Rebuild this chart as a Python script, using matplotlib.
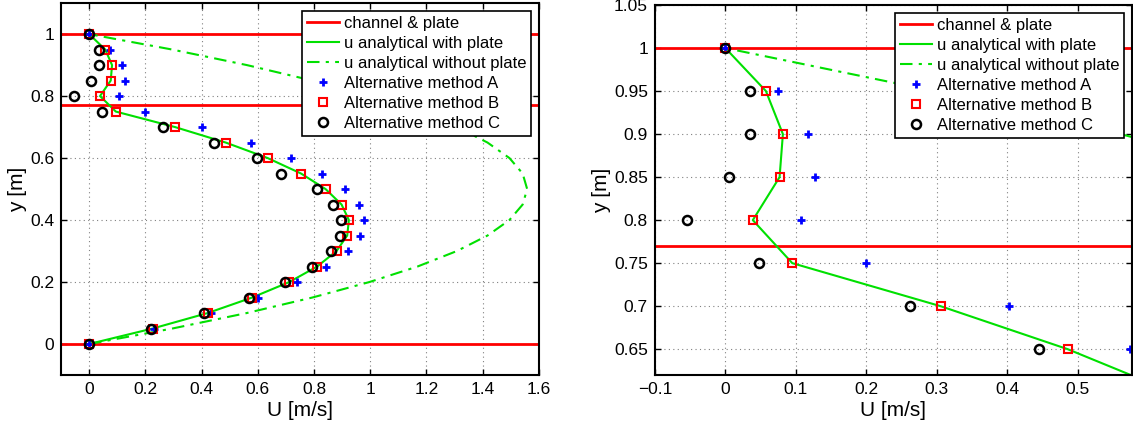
import matplotlib
matplotlib.use("Agg")
import matplotlib.pyplot as plt

plt.rcParams['font.family'] = ['Liberation Sans', 'DejaVu Sans']

# sample heights [m]
y = [0.0, 0.05, 0.1, 0.15, 0.2, 0.25, 0.3, 0.35, 0.4, 0.45, 0.5,
     0.55, 0.6, 0.65, 0.7, 0.75, 0.8, 0.85, 0.9, 0.95, 1.0]

# velocities [m/s]
u_with_plate = [0.0, 0.226, 0.422, 0.580, 0.712, 0.811, 0.880, 0.918, 0.924, 0.898, 0.841,
                0.754, 0.635, 0.486, 0.3055, 0.095, 0.039, 0.077, 0.0817, 0.0576, 0.0]
u_without_plate = [0.0, 0.296, 0.561, 0.794, 0.997, 1.168, 1.308, 1.417, 1.495, 1.542, 1.558,
                   1.542, 1.495, 1.417, 1.308, 1.168, 0.997, 0.794, 0.561, 0.296, 0.0]
method_a = [0.0, 0.232, 0.432, 0.599, 0.738, 0.844, 0.921, 0.964, 0.977, 0.959, 0.911,
            0.830, 0.718, 0.575, 0.4025, 0.199, 0.107, 0.1267, 0.1168, 0.0746, 0.0]
method_b = [0.0, 0.226, 0.422, 0.580, 0.712, 0.811, 0.880, 0.918, 0.924, 0.898, 0.841,
            0.754, 0.635, 0.486, 0.3055, 0.095, 0.039, 0.077, 0.0817, 0.0576, 0.0]
method_c = [0.0, 0.220, 0.410, 0.568, 0.696, 0.794, 0.859, 0.894, 0.896, 0.868, 0.809,
            0.684, 0.597, 0.445, 0.2615, 0.0477, -0.0545, 0.0055, 0.0354, 0.0345, 0.0]

walls = [0.0, 0.77, 1.0]   # channel bottom, plate, channel top

font_size = 12


def fmt(t):
    return f'{t:g}'.replace('-', '\u2212')


def draw_panel(ax, xlim, ylim, xticks, yticks):
    first = True
    for w in walls:
        ax.axhline(w, color='red', linewidth=2, label='channel & plate' if first else None)
        first = False
    ax.plot(u_with_plate, y, color='#00e000', linewidth=1.5, label='u analytical with plate')
    ax.plot(u_without_plate, y, color='#00e000', linewidth=1.5, linestyle='-.',
            dashes=(6, 3, 1.5, 3), label='u analytical without plate')
    ax.plot(method_a, y, linestyle='none', marker='+', color='blue', markersize=6,
            markeredgewidth=2, label='Alternative method A')
    ax.plot(method_b, y, linestyle='none', marker='s', color='red', markersize=6,
            markerfacecolor='none', markeredgewidth=1.5, label='Alternative method B')
    ax.plot(method_c, y, linestyle='none', marker='o', color='black', markersize=6.5,
            markerfacecolor='none', markeredgewidth=1.8, label='Alternative method C')

    ax.set_xlim(xlim)
    ax.set_ylim(ylim)
    ax.set_xticks(xticks)
    ax.set_yticks(yticks)
    ax.set_xticklabels([fmt(t) for t in xticks])
    ax.set_yticklabels([fmt(t) for t in yticks])
    ax.grid(True, color='#808080', linestyle=(0, (1, 3)), linewidth=0.8)
    ax.tick_params(direction='in', length=4, width=1, labelsize=12.5, top=True, right=True, pad=5)
    for s in ax.spines.values():
        s.set_linewidth(1.5)
    ax.set_xlabel('U [m/s]', fontsize=15, labelpad=3)
    ax.set_ylabel('y [m]', fontsize=15, labelpad=2)
    leg = ax.legend(loc='upper right', fontsize=font_size, fancybox=False, framealpha=1,
                    edgecolor='black', borderpad=0.3, labelspacing=0.3, handlelength=1.9,
                    handletextpad=0.3, borderaxespad=0.45)
    leg.get_frame().set_linewidth(1.2)


fig = plt.figure(figsize=(11.33, 4.28), dpi=100)
ax1 = fig.add_axes([0.0538, 0.1238, 0.4219, 0.869])
ax2 = fig.add_axes([0.578, 0.1238, 0.421, 0.8645])

draw_panel(ax1, (-0.1, 1.6), (-0.1, 1.1),
           [0, 0.2, 0.4, 0.6, 0.8, 1.0, 1.2, 1.4, 1.6],
           [0, 0.2, 0.4, 0.6, 0.8, 1.0])
draw_panel(ax2, (-0.1, 0.577), (0.62, 1.05),
           [-0.1, 0, 0.1, 0.2, 0.3, 0.4, 0.5],
           [0.65, 0.7, 0.75, 0.8, 0.85, 0.9, 0.95, 1.0, 1.05])

fig.savefig('out.png', dpi=100)
